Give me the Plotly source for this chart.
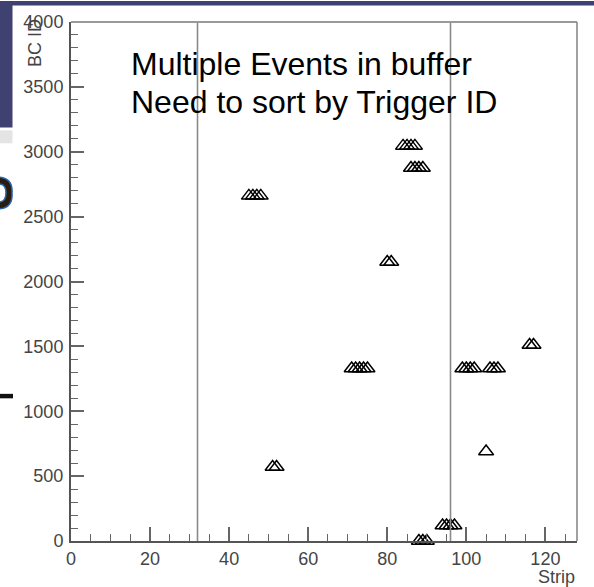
import plotly.graph_objects as go

# ---- data ----
strip = [45, 46, 47, 48,
         84, 85, 86, 87,
         86, 87, 88, 89,
         80, 81,
         71, 72, 73, 74, 75,
         99, 100, 101, 102,
         106, 107, 108,
         116, 117,
         105,
         51, 52,
         94, 95, 96, 97,
         88, 89, 90]
bcid = [2660, 2660, 2660, 2660,
        3045, 3045, 3045, 3045,
        2875, 2875, 2875, 2875,
        2150, 2150,
        1330, 1330, 1330, 1330, 1330,
        1330, 1330, 1330, 1330,
        1330, 1330, 1330,
        1510, 1510,
        690,
        570, 570,
        120, 120, 120, 120,
        0, 0, 0]
cut_lines = [32, 96]
x_range = [0, 128]
y_range = [0, 4000]
note_lines = ["Multiple Events in buffer", "Need to sort by Trigger ID"]

W, H = 594, 587
L, R, T, B = 71, 17, 19, 46
PW, PH = W - L - R, H - T - B

def px(x):
    return (x - L) / PW

def py(y):
    return (H - B - y) / PH

fig = go.Figure()
fig.add_trace(go.Scatter(
    x=strip, y=bcid, mode="markers",
    marker=dict(symbol="triangle-up-open", size=13, color="black",
                line=dict(width=1.5, color="black")),
    cliponaxis=False, showlegend=False, hoverinfo="x+y"))

shapes = []
for c in cut_lines:
    shapes.append(dict(type="line", xref="x", yref="paper", x0=c, x1=c, y0=0, y1=1,
                       line=dict(color="#8a8a8a", width=1.6)))
# frame top and right
shapes.append(dict(type="line", xref="paper", yref="paper", x0=0, x1=1, y0=1, y1=1,
                   line=dict(color="#9a9a9a", width=2)))
shapes.append(dict(type="line", xref="paper", yref="paper", x0=1, x1=1, y0=0, y1=1,
                   line=dict(color="#8a8a8a", width=1.6)))
# slide fragments
shapes.append(dict(type="rect", xref="paper", yref="paper", x0=px(-2), x1=px(W + 2),
                   y0=py(2.5), y1=py(-2), line=dict(width=0), fillcolor="#3f4170", layer="above"))
shapes.append(dict(type="rect", xref="paper", yref="paper", x0=px(-2), x1=px(12.5),
                   y0=py(125), y1=py(-2), line=dict(width=0), fillcolor="#3f4170", layer="above"))
shapes.append(dict(type="rect", xref="paper", yref="paper", x0=px(-2), x1=px(12.5),
                   y0=py(141), y1=py(128), line=dict(width=0), fillcolor="#e4e4e4", layer="above"))
shapes.append(dict(type="rect", xref="paper", yref="paper", x0=px(-2), x1=px(13),
                   y0=py(397.5), y1=py(393), line=dict(width=0), fillcolor="#111111", layer="above"))
# partial bold glyph at the left edge (slide fragment)
arc = ("M {a},{b} Q {c},{d} {e},{f} Q {g},{h} {i},{j} L {k},{l} Q {m},{n} {o},{p} "
       "Q {q},{r} {s},{t} Z").format(
    a=px(-1), b=py(175), c=px(13), d=py(176), e=px(12), f=py(191),
    g=px(13), h=py(206), i=px(-1), j=py(207),
    k=px(-1), l=py(200), m=px(6), n=py(200), o=px(6), p=py(191),
    q=px(6), r=py(182), s=px(-1), t=py(182))
shapes.append(dict(type="path", xref="paper", yref="paper", path=arc,
                   fillcolor="#2b1d0e", line=dict(color="#2a64b0", width=1.5), layer="above"))

annotations = [
    dict(text=note_lines[0], xref="paper", yref="paper", x=px(129), y=py(61),
         xanchor="left", yanchor="middle", showarrow=False,
         font=dict(family="Liberation Sans, Arial", size=32, color="black")),
    dict(text=note_lines[1], xref="paper", yref="paper", x=px(129), y=py(99),
         xanchor="left", yanchor="middle", showarrow=False,
         font=dict(family="Liberation Sans, Arial", size=32, color="black")),
    dict(text="Strip", xref="paper", yref="paper", x=1, y=py(577),
         xanchor="right", yanchor="middle", showarrow=False,
         font=dict(family="Liberation Sans, Arial", size=18, color="#444444")),
    dict(text="BC ID", xref="paper", yref="paper", x=px(35), y=py(14),
         xanchor="center", yanchor="top", textangle=-90, showarrow=False,
         font=dict(family="Liberation Sans, Arial", size=18, color="#444444")),
]

axis_font = dict(family="Liberation Sans, Arial", size=18, color="#444444")
fig.update_layout(
    width=W, height=H, margin=dict(l=L, r=R, t=T, b=B, pad=0),
    paper_bgcolor="white", plot_bgcolor="white",
    shapes=shapes, annotations=annotations,
    xaxis=dict(range=x_range, showgrid=False, zeroline=False, showline=True,
               linecolor="#555555", linewidth=2, ticks="inside", ticklen=14,
               tickwidth=1.6, tickcolor="#666666", dtick=20, tick0=0,
               tickfont=axis_font, ticklabelstandoff=0,
               minor=dict(ticks="inside", dtick=5, ticklen=7, tickcolor="#666666", tickwidth=1.4)),
    yaxis=dict(range=y_range, showgrid=False, zeroline=False, showline=True,
               linecolor="#555555", linewidth=2, ticks="inside", ticklen=13,
               tickwidth=1.6, tickcolor="#666666", dtick=500, tick0=0,
               tickfont=axis_font, ticklabelstandoff=2,
               minor=dict(ticks="inside", dtick=100, ticklen=7, tickcolor="#666666", tickwidth=1.4)),
)

fig.write_html("out.html")
